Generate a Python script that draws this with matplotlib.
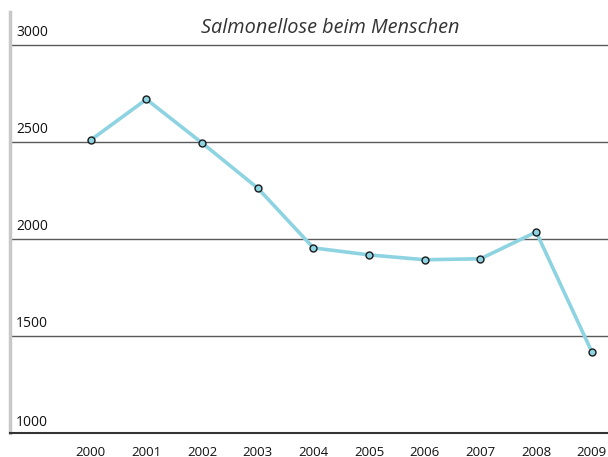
import matplotlib.pyplot as plt
import numpy as np

plt.rcParams['font.family'] = ['Open Sans', 'DejaVu Sans']

# Daten
years = [2000, 2001, 2002, 2003, 2004, 2005, 2006, 2007, 2008, 2009]
cases = [2510, 2720, 2495, 2262, 1954, 1918, 1893, 1898, 2036, 1418]
y_ticks = [1000, 1500, 2000, 2500, 3000]

fig = plt.figure(figsize=(6.08, 4.57), dpi=100)
ax = fig.add_axes([10 / 608, 24 / 457, 598 / 608, 421 / 457])

ax.plot(years, cases, color='#8dd3e1', linewidth=2.6, marker='o', markersize=5,
        markerfacecolor='#8dd3e1', markeredgecolor='#1a1a1a', markeredgewidth=1.0,
        zorder=3)

ax.set_xlim(1998.55, 2009.29)
ax.set_ylim(1000, 3170)

# Gitterlinien und Beschriftung
for v in y_ticks[1:]:
    ax.axhline(v, color='#5a5a5a', linewidth=1.0, zorder=1)
    ax.annotate(str(v), xy=(0, v), xycoords=('axes fraction', 'data'),
                xytext=(4.5, 3.5), textcoords='offset points', fontsize=10,
                ha='left', va='bottom', color='#111111')
ax.annotate('1000', xy=(0, 1000), xycoords=('axes fraction', 'data'),
            xytext=(4.5, 2.5), textcoords='offset points', fontsize=10,
            ha='left', va='bottom', color='#111111')

ax.set_yticks([])
ax.set_xticks(years)
ax.set_xticklabels([str(y) for y in years], fontsize=9.5, color='#111111')
ax.tick_params(axis='x', length=0, pad=9)

for s in ['top', 'right']:
    ax.spines[s].set_visible(False)
ax.spines['left'].set_color('#c8c8c8')
ax.spines['left'].set_linewidth(2.5)
ax.spines['bottom'].set_color('#333333')
ax.spines['bottom'].set_linewidth(1.5)

fig.text(330 / 608, 1 - 28 / 457, 'Salmonellose beim Menschen', fontsize=14.3,
         style='italic', ha='center', va='center', color='#333333')

fig.savefig('out.png', dpi=100, facecolor='white')
